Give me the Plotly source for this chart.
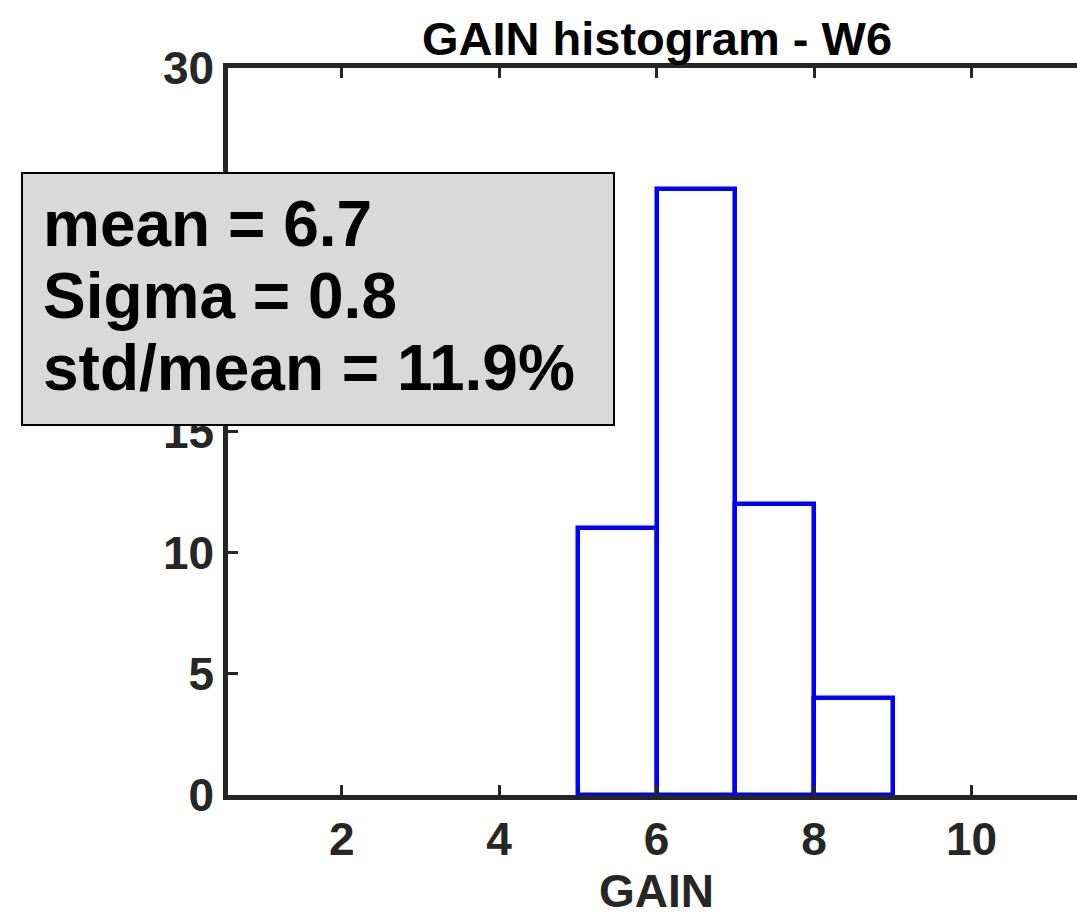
import plotly.graph_objects as go

# Data
bin_edges = [5, 6, 7, 8, 9]
counts = [11, 25, 12, 4]
x_ticks = [2, 4, 6, 8, 10]
y_ticks = [0, 5, 10, 15, 20, 25, 30]
stats_lines = ["mean = 6.7", "Sigma = 0.8", "std/mean = 11.9%"]
title_text = "GAIN histogram - W6"
xlabel_text = "GAIN"

centers = [(a + b) / 2 for a, b in zip(bin_edges[:-1], bin_edges[1:])]
widths = [b - a for a, b in zip(bin_edges[:-1], bin_edges[1:])]

W, H = 1077, 919
L, R, T, B = 228, 0, 68, 124
FONT = "Liberation Sans, Arial, Helvetica, sans-serif"
AX = "#262626"

fig = go.Figure()
fig.add_trace(go.Bar(
    x=centers, y=counts, width=widths,
    marker=dict(color="rgba(0,0,0,0)", line=dict(color="#0000ff", width=4.5)),
    showlegend=False, hoverinfo="skip",
))

def px_to_paper_x(px):
    return (px - L) / (W - L - R)

def px_to_paper_y(py):
    return (H - B - py) / (H - T - B)

fig.update_layout(
    width=W, height=H,
    margin=dict(l=L, r=R, t=T, b=B, pad=0),
    plot_bgcolor="white", paper_bgcolor="white",
    bargap=0,
    xaxis=dict(
        range=[0.556, 11.34], tickvals=x_ticks, ticks="inside", ticklen=10,
        tickwidth=3, tickcolor=AX, showline=True, linecolor=AX, linewidth=4.5,
        mirror="ticks", showgrid=False, zeroline=False,
        tickfont=dict(family=FONT, size=46, color=AX, weight="bold"),
    ),
    yaxis=dict(
        range=[0, 30], tickvals=y_ticks, ticks="inside", ticklen=10,
        tickwidth=3, tickcolor=AX, showline=True, linecolor=AX, linewidth=4.5,
        mirror=False, showgrid=False, zeroline=False,
        tickfont=dict(family=FONT, size=46, color=AX, weight="bold"),
    ),
)

# Title
fig.add_annotation(
    text=title_text, xref="paper", yref="paper",
    x=px_to_paper_x(657), y=px_to_paper_y(38), xanchor="center", yanchor="middle",
    showarrow=False, font=dict(family=FONT, size=47, color="black", weight="bold"),
)
# X label
fig.add_annotation(
    text=xlabel_text, xref="paper", yref="paper",
    x=px_to_paper_x(656), y=px_to_paper_y(891), xanchor="center", yanchor="middle",
    showarrow=False, font=dict(family=FONT, size=46, color=AX, weight="bold"),
)

# Stats box
fig.add_shape(
    type="rect", xref="paper", yref="paper", layer="above",
    x0=px_to_paper_x(22), x1=px_to_paper_x(614),
    y0=px_to_paper_y(425), y1=px_to_paper_y(173),
    fillcolor="#d9d9d9", line=dict(color="black", width=2),
)
line_y = [224, 296, 368]
for txt, yy in zip(stats_lines, line_y):
    fig.add_annotation(
        text=txt, xref="paper", yref="paper",
        x=px_to_paper_x(41), y=px_to_paper_y(yy), xanchor="left", yanchor="middle",
        showarrow=False, font=dict(family=FONT, size=64, color="black", weight="bold"),
    )

fig.write_html("out.html")
